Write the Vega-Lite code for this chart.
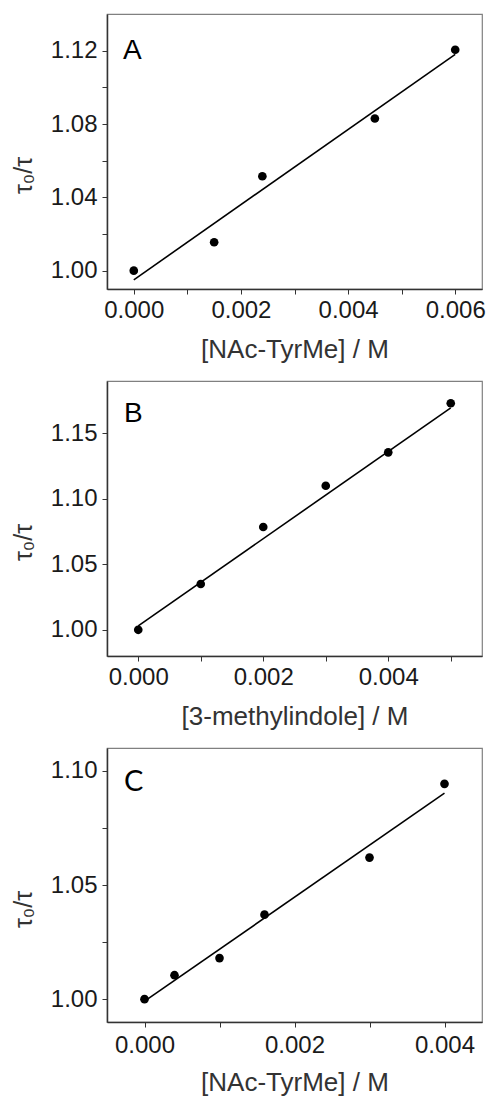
{
  "$schema": "https://vega.github.io/schema/vega-lite/v6.json",
  "padding": {"left": 10, "top": 13, "right": 5, "bottom": 0},
  "background": "white",
  "spacing": 17,
  "datasets": {
    "ptsA": [{"x": 0, "y": 1.0}, {"x": 0.0015, "y": 1.0155}, {"x": 0.0024, "y": 1.0515}, {"x": 0.0045, "y": 1.083}, {"x": 0.006, "y": 1.1205}],
    "fitA": [{"x": 0, "y": 0.995}, {"x": 0.006, "y": 1.118}],
    "labA": [{"x": -0.0002, "y": 1.12, "t": "A"}],
    "ptsB": [{"x": 0, "y": 1.0}, {"x": 0.001, "y": 1.035}, {"x": 0.002, "y": 1.0785}, {"x": 0.003, "y": 1.11}, {"x": 0.004, "y": 1.1355}, {"x": 0.005, "y": 1.173}],
    "fitB": [{"x": 0, "y": 1.003}, {"x": 0.005, "y": 1.1695}],
    "labB": [{"x": -0.00023, "y": 1.1645, "t": "B"}],
    "ptsC": [{"x": 0, "y": 1.0}, {"x": 0.0004, "y": 1.0105}, {"x": 0.001, "y": 1.018}, {"x": 0.0016, "y": 1.037}, {"x": 0.003, "y": 1.062}, {"x": 0.004, "y": 1.0943}],
    "fitC": [{"x": 0.00004, "y": 1.0}, {"x": 0.004, "y": 1.0902}],
    "labC": [{"x": -0.000275, "y": 1.095, "t": "C"}]
  },
  "config": {
    "font": "Liberation Sans",
    "view": {"stroke": "#808080", "strokeWidth": 1.2},
    "axis": {
      "grid": false,
      "domainColor": "#333333",
      "domainWidth": 1.5,
      "tickColor": "#333333",
      "tickWidth": 1,
      "tickSize": 5,
      "labelFont": "Liberation Sans",
      "labelFontSize": 24,
      "labelColor": "#1a1a1a",
      "labelOverlap": false,
      "titleFont": "Liberation Sans",
      "titleFontWeight": "normal",
      "titleColor": "#333333"
    },
    "axisX": {"labelPadding": 4, "titleFontSize": 26, "titlePadding": 14, "labelFlush": false},
    "axisY": {"labelPadding": 5, "titleFontSize": 25, "titlePadding": 14, "titleY": 161}
  },
  "vconcat": [
    {
      "width": 375, "height": 275,
      "layer": [
        {"data": {"name": "fitA"}, "mark": {"type": "line", "color": "black", "strokeWidth": 1.6},
         "encoding": {
           "x": {"field": "x", "type": "quantitative", "scale": {"domain": [-0.0005, 0.0065], "nice": false, "zero": false},
                 "axis": {"title": "[NAc-TyrMe] / M", "values": [0, 0.001, 0.002, 0.003, 0.004, 0.005, 0.006], "format": ".3f",
                          "labelExpr": "round(datum.value*1000) % 2 == 0 ? datum.label : ''"}},
           "y": {"field": "y", "type": "quantitative", "scale": {"domain": [0.99, 1.14], "nice": false, "zero": false},
                 "axis": {"title": "τ₀/τ", "values": [1.0, 1.02, 1.04, 1.06, 1.08, 1.1, 1.12], "format": ".2f",
                          "labelExpr": "round((datum.value-1)*100) % 4 == 0 ? datum.label : ''"}}
         }},
        {"data": {"name": "ptsA"}, "mark": {"type": "point", "filled": true, "color": "black", "size": 75, "opacity": 1},
         "encoding": {"x": {"field": "x", "type": "quantitative"}, "y": {"field": "y", "type": "quantitative"}}},
        {"data": {"name": "labA"}, "mark": {"type": "text", "align": "left", "baseline": "middle", "fontSize": 28, "font": "Liberation Sans", "color": "black"},
         "encoding": {"x": {"field": "x", "type": "quantitative"}, "y": {"field": "y", "type": "quantitative"}, "text": {"field": "t"}}}
      ]
    },
    {
      "width": 375, "height": 275,
      "layer": [
        {"data": {"name": "fitB"}, "mark": {"type": "line", "color": "black", "strokeWidth": 1.6},
         "encoding": {
           "x": {"field": "x", "type": "quantitative", "scale": {"domain": [-0.0005, 0.0055], "nice": false, "zero": false},
                 "axis": {"title": "[3-methylindole] / M", "values": [0, 0.001, 0.002, 0.003, 0.004, 0.005], "format": ".3f",
                          "labelExpr": "round(datum.value*1000) % 2 == 0 ? datum.label : ''"}},
           "y": {"field": "y", "type": "quantitative", "scale": {"domain": [0.98, 1.19], "nice": false, "zero": false},
                 "axis": {"title": "τ₀/τ", "values": [1.0, 1.025, 1.05, 1.075, 1.1, 1.125, 1.15, 1.175], "format": ".2f",
                          "labelExpr": "round((datum.value-1)*1000) % 50 == 0 ? datum.label : ''"}}
         }},
        {"data": {"name": "ptsB"}, "mark": {"type": "point", "filled": true, "color": "black", "size": 75, "opacity": 1},
         "encoding": {"x": {"field": "x", "type": "quantitative"}, "y": {"field": "y", "type": "quantitative"}}},
        {"data": {"name": "labB"}, "mark": {"type": "text", "align": "left", "baseline": "middle", "fontSize": 28, "font": "Liberation Sans", "color": "black"},
         "encoding": {"x": {"field": "x", "type": "quantitative"}, "y": {"field": "y", "type": "quantitative"}, "text": {"field": "t"}}}
      ]
    },
    {
      "width": 375, "height": 274,
      "layer": [
        {"data": {"name": "fitC"}, "mark": {"type": "line", "color": "black", "strokeWidth": 1.6},
         "encoding": {
           "x": {"field": "x", "type": "quantitative", "scale": {"domain": [-0.0005, 0.0045], "nice": false, "zero": false},
                 "axis": {"title": "[NAc-TyrMe] / M", "titlePadding": 12, "labelPadding": 6, "values": [0, 0.001, 0.002, 0.003, 0.004], "format": ".3f",
                          "labelExpr": "round(datum.value*1000) % 2 == 0 ? datum.label : ''"}},
           "y": {"field": "y", "type": "quantitative", "scale": {"domain": [0.99, 1.11], "nice": false, "zero": false},
                 "axis": {"title": "τ₀/τ", "values": [1.0, 1.025, 1.05, 1.075, 1.1], "format": ".2f",
                          "labelExpr": "round((datum.value-1)*1000) % 50 == 0 ? datum.label : ''"}}
         }},
        {"data": {"name": "ptsC"}, "mark": {"type": "point", "filled": true, "color": "black", "size": 75, "opacity": 1},
         "encoding": {"x": {"field": "x", "type": "quantitative"}, "y": {"field": "y", "type": "quantitative"}}},
        {"data": {"name": "labC"}, "mark": {"type": "text", "align": "left", "baseline": "middle", "fontSize": 29, "font": "Lato", "color": "black"},
         "encoding": {"x": {"field": "x", "type": "quantitative"}, "y": {"field": "y", "type": "quantitative"}, "text": {"field": "t"}}}
      ]
    }
  ],
  "resolve": {"scale": {"x": "independent", "y": "independent"}}
}
